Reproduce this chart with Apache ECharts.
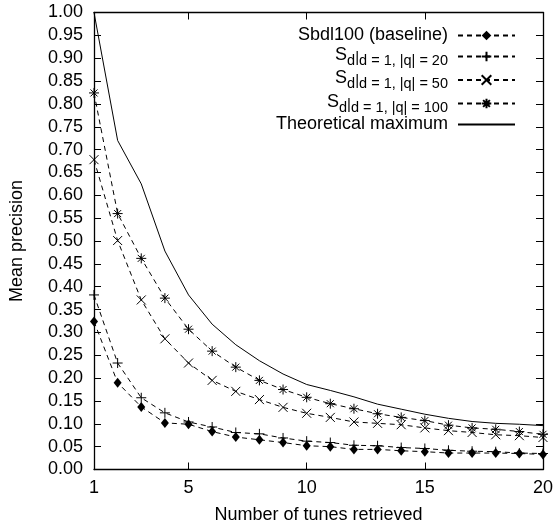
<!DOCTYPE html>
<html>
<head>
<meta charset="utf-8">
<script src="https://cdn.jsdelivr.net/npm/echarts@6/dist/echarts.min.js"></script>
<style>html,body{margin:0;padding:0;background:#fff}#c{width:556px;height:529px}</style>
</head>
<body>
<div id="c"></div>
<script>
const xs = [1,2,3,4,5,6,7,8,9,10,11,12,13,14,15,16,17,18,19,20];
const xTickLabels = [1,5,10,15,20];
const baseline = [0.324,0.190,0.137,0.102,0.099,0.083,0.071,0.065,0.059,0.052,0.050,0.044,0.044,0.041,0.039,0.036,0.036,0.036,0.035,0.033];
const q20 = [0.382,0.233,0.157,0.124,0.104,0.093,0.081,0.078,0.069,0.062,0.059,0.053,0.052,0.048,0.046,0.042,0.040,0.039,0.036,0.035];
const q50 = [0.678,0.501,0.371,0.286,0.233,0.195,0.171,0.153,0.136,0.123,0.114,0.104,0.101,0.098,0.091,0.085,0.081,0.076,0.074,0.070];
const q100 = [0.824,0.560,0.462,0.375,0.307,0.259,0.224,0.195,0.175,0.158,0.144,0.133,0.122,0.114,0.107,0.097,0.091,0.088,0.083,0.077];
const theory = [1.0,0.72,0.625,0.478,0.382,0.318,0.273,0.238,0.209,0.186,0.173,0.159,0.143,0.132,0.121,0.112,0.105,0.101,0.099,0.096];
const names = ['Sbdl100 (baseline)','q20','q50','q100','Theoretical maximum'];
const subs = {q20:'d = 1, |q| = 20', q50:'d = 1, |q| = 50', q100:'d = 1, |q| = 100'};

const FONT = '"Liberation Sans", Arial, Helvetica, sans-serif';
const pair = arr => xs.map((x,i)=>[x, arr[i]]);
const dash = [5,4];
const PLUS = 'path://M0,5L10,5M5,0L5,10';
const CROSS = 'path://M0,0L10,10M10,0L0,10';
const STAR = 'path://M0,5L10,5M5,0L5,10M1.5,1.5L8.5,8.5M8.5,1.5L1.5,8.5';

function mk(name, data, symbol, size, show, lineType, filled){
  return {
    name, type:'line', data: pair(data), xAxisIndex:0, yAxisIndex:0,
    symbol: symbol, symbolSize: size, showSymbol: show,
    color:'#000', silent:true, animation:false,
    lineStyle:{color:'#000', width:1, type:lineType},
    itemStyle: filled ? {color:'#000', borderWidth:0} : {color:'rgba(0,0,0,0)', borderColor:'#000', borderWidth:1}
  };
}

const chart = echarts.init(document.getElementById('c'), null, {renderer:'canvas'});
const axisCommon = {
  axisLine:{show:true, onZero:false, lineStyle:{color:'#000', width:1.3}},
  splitLine:{show:false}
};
const legendData = names.map(n => n === 'Theoretical maximum' ? {name:n, itemStyle:{opacity:0}} : {name:n});
chart.setOption({
  animation:false,
  backgroundColor:'#fff',
  textStyle:{fontFamily:FONT},
  grid:{left:94, right:12, top:12.5, bottom:58, containLabel:false},
  legend:{
    right:35, top:21.5, orient:'vertical', align:'right',
    itemWidth:57, itemHeight:12, itemGap:0.5,
    data: legendData,
    formatter: function(n){
      if (subs[n]) return '{m|S}{s|d}{b||}{e|' + subs[n] + '}';
      return '{p|' + n + '}';
    },
    textStyle:{
      fontFamily:FONT, color:'#000', fontSize:18,
      rich:{
        p:{fontFamily:FONT, fontSize:18, lineHeight:23, color:'#000', verticalAlign:'middle', padding:[0,5,0,0]},
        m:{fontFamily:FONT, fontSize:18, lineHeight:23, color:'#000', verticalAlign:'top', padding:[1,0,0,0]},
        b:{fontFamily:FONT, fontSize:15, lineHeight:23, color:'#000', verticalAlign:'top', padding:[5,0,0,0]},
        s:{fontFamily:FONT, fontSize:14.5, lineHeight:23, color:'#000', verticalAlign:'top', padding:[8,0,0,0]},
        e:{fontFamily:FONT, fontSize:14.5, lineHeight:23, color:'#000', verticalAlign:'top', padding:[8,5,0,0]}
      }
    }
  },
  xAxis:[
    Object.assign({type:'value', min:1, max:20, position:'bottom',
      name:'Number of tunes retrieved', nameLocation:'middle', nameGap:36.5,
      nameTextStyle:{fontFamily:FONT, fontSize:18, color:'#000'},
      axisTick:{show:true, inside:true, length:7, customValues:xTickLabels, lineStyle:{color:'#000'}},
      axisLabel:{show:true, customValues:xTickLabels, margin:10, fontFamily:FONT, fontSize:18, color:'#000'}
    }, axisCommon),
    Object.assign({type:'value', min:1, max:20, position:'top',
      axisTick:{show:true, inside:true, length:7, customValues:xTickLabels, lineStyle:{color:'#000'}},
      axisLabel:{show:false}
    }, axisCommon)
  ],
  yAxis:[
    Object.assign({type:'value', min:0, max:1, interval:0.05, position:'left',
      name:'Mean precision', nameLocation:'middle', nameGap:68, nameRotate:90,
      nameTextStyle:{fontFamily:FONT, fontSize:18, color:'#000'},
      axisTick:{show:true, inside:true, length:7, lineStyle:{color:'#000'}},
      axisLabel:{show:true, margin:11, fontFamily:FONT, fontSize:18, color:'#000', formatter:v=>v.toFixed(2)}
    }, axisCommon),
    Object.assign({type:'value', min:0, max:1, interval:0.05, position:'right',
      axisTick:{show:true, inside:true, length:7, lineStyle:{color:'#000'}},
      axisLabel:{show:false}
    }, axisCommon)
  ],
  series:[
    mk(names[0], baseline, 'diamond', [8,10], true, dash, true),
    mk(names[1], q20, PLUS, 10, true, dash, false),
    mk(names[2], q50, CROSS, 9, true, dash, false),
    mk(names[3], q100, STAR, 10, true, dash, false),
    mk(names[4], theory, 'circle', 0, false, 'solid', true)
  ]
});
</script>
</body>
</html>
